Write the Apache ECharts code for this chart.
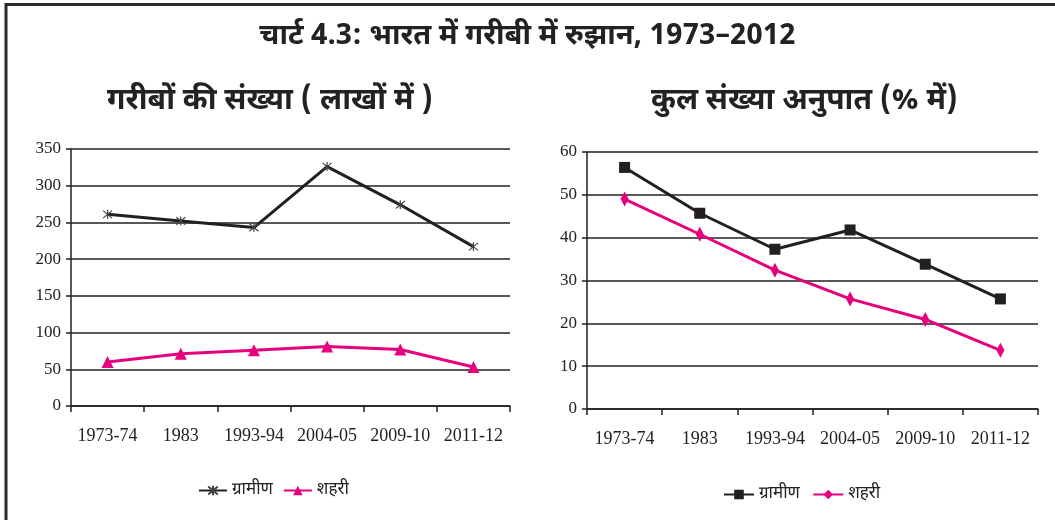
<!DOCTYPE html>
<html>
<head>
<meta charset="utf-8">
<script src="https://cdn.jsdelivr.net/npm/echarts@6/dist/echarts.min.js"></script>
<style>
  html, body { margin: 0; padding: 0; background: #fff; }
  #chart { width: 1055px; height: 520px; }
</style>
</head>
<body>
<div id="chart"></div>
<script>
// श्रेणियाँ (वर्ष)
const years = ['1973-74', '1983', '1993-94', '2004-05', '2009-10', '2011-12'];
// गरीबों की संख्या (लाखों में)
const ruralCount = [261, 252, 243, 326, 274, 217];
const urbanCount = [60, 71, 76, 81, 77, 53];
// कुल संख्या अनुपात (% में)
const ruralRatio = [56.4, 45.7, 37.3, 41.8, 33.8, 25.7];
const urbanRatio = [49.0, 40.8, 32.4, 25.7, 20.9, 13.7];
const countTicks = [0, 350, 50];
const ratioTicks = [0, 60, 10];

const hindiFont = '"Noto Sans Devanagari", "Lohit Devanagari", "Noto Sans", sans-serif';
const numFont = '"Liberation Serif", "DejaVu Serif", serif';
const black = '#231f20';
const pink = '#e6007e';
const starPath = 'path://M0,0L10,10M10,0L0,10M5,-1L5,11';

function xAxisOf(gridIndex) {
    return {
        type: 'category',
        gridIndex: gridIndex,
        data: years,
        boundaryGap: true,
        axisLine: { lineStyle: { color: black, width: 1.5 } },
        axisTick: { show: true, interval: 0, length: 6, lineStyle: { color: black, width: 1.5 } },
        axisLabel: { interval: 0, hideOverlap: false, color: '#222', fontFamily: numFont, fontSize: 18, margin: 21 },
        splitLine: { show: false }
    };
}

function yAxisOf(gridIndex, ticks) {
    return {
        type: 'value',
        gridIndex: gridIndex,
        min: ticks[0],
        max: ticks[1],
        interval: ticks[2],
        axisLine: { show: true, lineStyle: { color: black, width: 1.5 } },
        axisTick: { show: true, length: 5, lineStyle: { color: black, width: 1.5 } },
        axisLabel: { color: '#222', fontFamily: numFont, fontSize: 17, margin: 10 },
        splitLine: { show: true, lineStyle: { color: black, width: 1.5 } }
    };
}

const legendText = { fontFamily: hindiFont, fontSize: 17, color: '#222' };

const chart = echarts.init(document.getElementById('chart'));
chart.setOption({
    animation: false,
    backgroundColor: '#fff',
    title: [
        {
            text: 'चार्ट 4.3: भारत में गरीबी में रुझान, 1973–2012',
            left: 'center', top: 19,
            textStyle: { fontFamily: hindiFont, fontSize: 29, fontWeight: 'bold', color: '#222' }
        },
        {
            text: 'गरीबों की संख्या ( लाखों में )',
            left: 102, top: 83,
            textStyle: { fontFamily: hindiFont, fontSize: 30, fontWeight: 'bold', color: '#222' }
        },
        {
            text: 'कुल संख्या अनुपात (% में)',
            left: 646, top: 83,
            textStyle: { fontFamily: hindiFont, fontSize: 30, fontWeight: 'bold', color: '#222' }
        }
    ],
    legend: [
        {
            data: ['ग्रामीण', 'शहरी'],
            left: 193, top: 477,
            itemWidth: 28, itemHeight: 12, itemGap: 10,
            textStyle: legendText
        },
        {
            data: ['ग्रामीण ', 'शहरी '],
            left: 718, top: 481,
            itemWidth: 30, itemHeight: 12, itemGap: 8,
            textStyle: legendText
        }
    ],
    grid: [
        { left: 71, right: 545, top: 149, bottom: 114 },
        { left: 587, right: 17, top: 152, bottom: 111 }
    ],
    xAxis: [xAxisOf(0), xAxisOf(1)],
    yAxis: [yAxisOf(0, countTicks), yAxisOf(1, ratioTicks)],
    series: [
        {
            name: 'ग्रामीण', type: 'line', xAxisIndex: 0, yAxisIndex: 0,
            data: ruralCount,
            symbol: starPath, symbolSize: 9,
            lineStyle: { color: black, width: 3 },
            itemStyle: { color: 'none', borderColor: '#444', borderWidth: 1.2 }
        },
        {
            name: 'शहरी', type: 'line', xAxisIndex: 0, yAxisIndex: 0,
            data: urbanCount,
            symbol: 'triangle', symbolSize: 12,
            lineStyle: { color: pink, width: 3 },
            itemStyle: { color: pink }
        },
        {
            name: 'ग्रामीण ', type: 'line', xAxisIndex: 1, yAxisIndex: 1,
            data: ruralRatio,
            symbol: 'rect', symbolSize: 11,
            lineStyle: { color: black, width: 3 },
            itemStyle: { color: black }
        },
        {
            name: 'शहरी ', type: 'line', xAxisIndex: 1, yAxisIndex: 1,
            data: urbanRatio,
            symbol: 'diamond', symbolSize: [8, 15],
            lineStyle: { color: pink, width: 3 },
            itemStyle: { color: pink }
        }
    ],
    graphic: [
        { type: 'line', shape: { x1: 5, y1: 4.5, x2: 1055, y2: 4.5 }, style: { stroke: '#2b2b2b', lineWidth: 3 } },
        { type: 'line', shape: { x1: 6, y1: 3, x2: 6, y2: 520 }, style: { stroke: '#2b2b2b', lineWidth: 3 } }
    ]
});
</script>
</body>
</html>
